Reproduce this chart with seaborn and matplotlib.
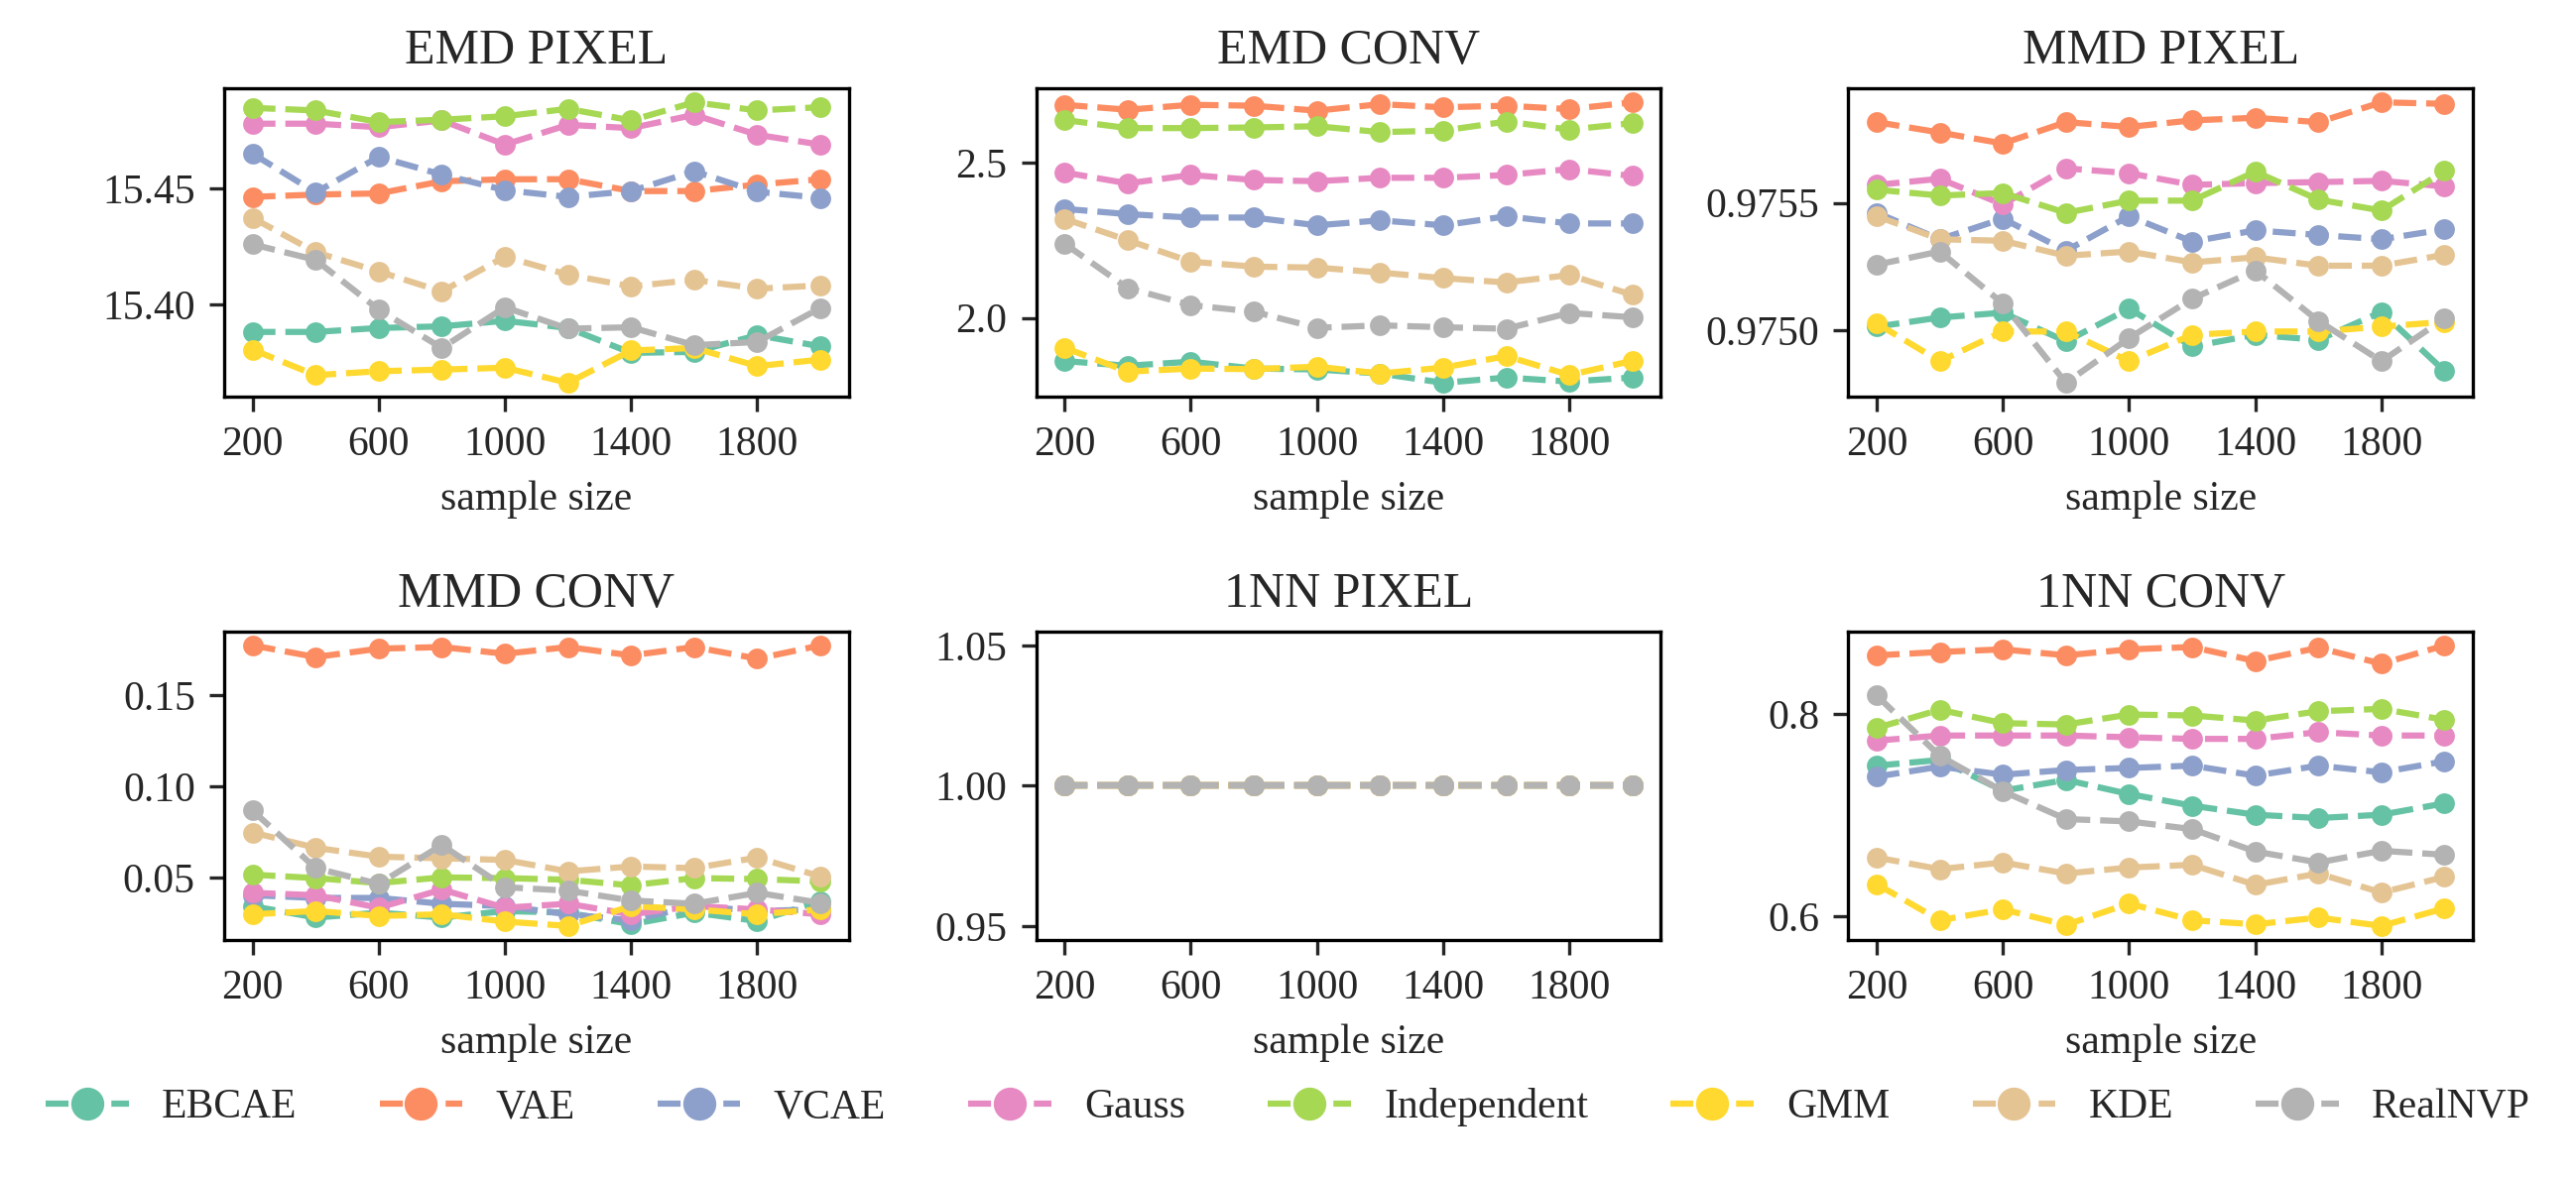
import numpy as np
import pandas as pd
import matplotlib
matplotlib.use("Agg")
import matplotlib.pyplot as plt
from matplotlib.lines import Line2D
import seaborn as sns

# ---------------------------
# Data
# ---------------------------
sample_sizes = [200, 400, 600, 800, 1000, 1200, 1400, 1600, 1800, 2000]
models = ["EBCAE", "VAE", "VCAE", "Gauss", "Independent", "GMM", "KDE", "RealNVP"]
panel_titles = ["EMD PIXEL", "EMD CONV", "MMD PIXEL", "MMD CONV", "1NN PIXEL", "1NN CONV"]

emd_pixel = {
    "EBCAE":       [15.3883, 15.3883, 15.3900, 15.3907, 15.3931, 15.3900, 15.3793, 15.3797, 15.3869, 15.3821],
    "VAE":         [15.4464, 15.4474, 15.4479, 15.4531, 15.4540, 15.4540, 15.4489, 15.4489, 15.4517, 15.4540],
    "VCAE":        [15.4650, 15.4483, 15.4636, 15.4560, 15.4493, 15.4464, 15.4489, 15.4574, 15.4486, 15.4460],
    "Gauss":       [15.4779, 15.4779, 15.4764, 15.4793, 15.4689, 15.4774, 15.4760, 15.4817, 15.4731, 15.4689],
    "Independent": [15.4847, 15.4836, 15.4786, 15.4796, 15.4811, 15.4843, 15.4793, 15.4871, 15.4836, 15.4850],
    "GMM":         [15.3807, 15.3697, 15.3714, 15.3721, 15.3729, 15.3664, 15.3803, 15.3814, 15.3736, 15.3764],
    "KDE":         [15.4374, 15.4226, 15.4143, 15.4057, 15.4207, 15.4129, 15.4079, 15.4107, 15.4069, 15.4083],
    "RealNVP":     [15.4260, 15.4193, 15.3979, 15.3814, 15.3989, 15.3897, 15.3903, 15.3826, 15.3840, 15.3986],
}
emd_conv = {
    "EBCAE":       [1.861, 1.846, 1.859, 1.837, 1.834, 1.821, 1.791, 1.808, 1.795, 1.808],
    "VAE":         [2.686, 2.670, 2.686, 2.683, 2.667, 2.688, 2.678, 2.683, 2.672, 2.694],
    "VCAE":        [2.351, 2.334, 2.323, 2.323, 2.298, 2.314, 2.298, 2.327, 2.304, 2.304],
    "Gauss":       [2.468, 2.433, 2.460, 2.444, 2.440, 2.451, 2.451, 2.460, 2.479, 2.457],
    "Independent": [2.637, 2.611, 2.611, 2.613, 2.617, 2.598, 2.603, 2.632, 2.606, 2.627],
    "GMM":         [1.904, 1.827, 1.837, 1.835, 1.843, 1.821, 1.840, 1.877, 1.816, 1.862],
    "KDE":         [2.319, 2.250, 2.181, 2.165, 2.162, 2.146, 2.128, 2.114, 2.138, 2.074],
    "RealNVP":     [2.239, 2.096, 2.041, 2.020, 1.968, 1.976, 1.970, 1.965, 2.016, 2.002],
}
mmd_pixel = {
    "EBCAE":       [0.975013, 0.975049, 0.975068, 0.974955, 0.975084, 0.974935, 0.974981, 0.974961, 0.975071, 0.974838],
    "VAE":         [0.975818, 0.975777, 0.975734, 0.975818, 0.975799, 0.975825, 0.975835, 0.975818, 0.975896, 0.975890],
    "VCAE":        [0.975461, 0.975357, 0.975438, 0.975312, 0.975448, 0.975348, 0.975392, 0.975374, 0.975357, 0.975396],
    "Gauss":       [0.975571, 0.975595, 0.975494, 0.975636, 0.975617, 0.975571, 0.975578, 0.975582, 0.975587, 0.975565],
    "Independent": [0.975552, 0.975529, 0.975539, 0.975461, 0.975509, 0.975509, 0.975623, 0.975513, 0.975470, 0.975626],
    "GMM":         [0.975026, 0.974877, 0.974994, 0.974994, 0.974877, 0.974981, 0.974994, 0.974994, 0.975013, 0.975032],
    "KDE":         [0.975448, 0.975357, 0.975351, 0.975292, 0.975309, 0.975266, 0.975286, 0.975253, 0.975253, 0.975296],
    "RealNVP":     [0.975257, 0.975309, 0.975104, 0.974792, 0.974968, 0.975123, 0.975234, 0.975036, 0.974877, 0.975045],
}
mmd_conv = {
    "EBCAE":       [0.0342, 0.0279, 0.0306, 0.0279, 0.0315, 0.0306, 0.0242, 0.0306, 0.0260, 0.0369],
    "VAE":         [0.1776, 0.1712, 0.1758, 0.1767, 0.1730, 0.1767, 0.1721, 0.1767, 0.1703, 0.1776],
    "VCAE":        [0.0402, 0.0387, 0.0387, 0.0355, 0.0342, 0.0297, 0.0264, 0.0342, 0.0315, 0.0324],
    "Gauss":       [0.0415, 0.0402, 0.0333, 0.0433, 0.0333, 0.0355, 0.0297, 0.0342, 0.0324, 0.0297],
    "Independent": [0.0515, 0.0496, 0.0469, 0.0500, 0.0496, 0.0487, 0.0456, 0.0496, 0.0491, 0.0478],
    "GMM":         [0.0297, 0.0315, 0.0288, 0.0297, 0.0257, 0.0233, 0.0342, 0.0324, 0.0297, 0.0324],
    "KDE":         [0.0747, 0.0663, 0.0614, 0.0605, 0.0596, 0.0533, 0.0560, 0.0551, 0.0609, 0.0505],
    "RealNVP":     [0.0868, 0.0551, 0.0464, 0.0678, 0.0446, 0.0427, 0.0373, 0.0355, 0.0415, 0.0360],
}
nn_pixel = {m: [1.0] * 10 for m in models}
nn_conv = {
    "EBCAE":       [0.7489, 0.7545, 0.7242, 0.7348, 0.7209, 0.7094, 0.7005, 0.6972, 0.7005, 0.7117],
    "VAE":         [0.8577, 0.8610, 0.8636, 0.8577, 0.8636, 0.8659, 0.8521, 0.8652, 0.8494, 0.8675],
    "VCAE":        [0.7381, 0.7479, 0.7400, 0.7446, 0.7466, 0.7489, 0.7390, 0.7489, 0.7423, 0.7532],
    "Gauss":       [0.7736, 0.7786, 0.7786, 0.7786, 0.7769, 0.7753, 0.7753, 0.7819, 0.7786, 0.7786],
    "Independent": [0.7862, 0.8040, 0.7908, 0.7895, 0.7993, 0.7984, 0.7934, 0.8026, 0.8049, 0.7941],
    "GMM":         [0.6320, 0.5964, 0.6072, 0.5918, 0.6129, 0.5964, 0.5924, 0.5990, 0.5908, 0.6082],
    "KDE":         [0.6583, 0.6468, 0.6534, 0.6425, 0.6484, 0.6511, 0.6313, 0.6425, 0.6237, 0.6392],
    "RealNVP":     [0.8181, 0.7585, 0.7236, 0.6962, 0.6939, 0.6863, 0.6642, 0.6534, 0.6649, 0.6610],
}
panel_data = [emd_pixel, emd_conv, mmd_pixel, mmd_conv, nn_pixel, nn_conv]

x_ticks = [200, 600, 1000, 1400, 1800]
y_ticks = [
    [15.40, 15.45],
    [2.0, 2.5],
    [0.9750, 0.9755],
    [0.05, 0.10, 0.15],
    [0.95, 1.00, 1.05],
    [0.6, 0.8],
]
y_ticklabels = [
    ["15.40", "15.45"],
    ["2.0", "2.5"],
    ["0.9750", "0.9755"],
    ["0.05", "0.10", "0.15"],
    ["0.95", "1.00", "1.05"],
    ["0.6", "0.8"],
]

# ---------------------------
# Style
# ---------------------------
sns.set_style("ticks")
plt.rcParams["font.family"] = ["Liberation Serif", "DejaVu Serif"]
plt.rcParams["mathtext.fontset"] = "stix"
palette = sns.color_palette("Set2", len(models))

fig, axes = plt.subplots(2, 3, figsize=(2597 / 300, 1187 / 300), dpi=300)
fig.subplots_adjust(left=0.087, right=0.960, top=0.925, bottom=0.2014, wspace=0.30, hspace=0.76)

for ax, title, data, yt, ytl in zip(axes.flat, panel_titles, panel_data, y_ticks, y_ticklabels):
    df = pd.DataFrame(
        [(m, s, v) for m in models for s, v in zip(sample_sizes, data[m])],
        columns=["model", "sample size", "value"],
    )
    sns.lineplot(
        data=df, x="sample size", y="value", hue="model", hue_order=models,
        palette=palette, marker="o", markersize=5, markeredgewidth=0,
        linestyle="--", linewidth=1.5, legend=False, ax=ax,
    )
    ax.set_title(title, fontsize=12)
    ax.set_xlabel("sample size", fontsize=10)
    ax.set_ylabel("")
    ax.set_xticks(x_ticks)
    ax.set_yticks(yt, labels=ytl)
    ax.tick_params(labelsize=10, width=0.8, length=3.5)
    for sp in ax.spines.values():
        sp.set_visible(True)
        sp.set_linewidth(0.8)
        sp.set_color("black")

handles = [
    Line2D([], [], color=c, linestyle="--", linewidth=1.5, marker="o", markersize=5, markeredgewidth=0)
    for c in palette
]
fig.legend(handles, models, loc="center", bbox_to_anchor=(0.5, 0.059), ncol=8,
           frameon=False, fontsize=10, markerscale=1.6)

fig.savefig("out.png", dpi=300)
